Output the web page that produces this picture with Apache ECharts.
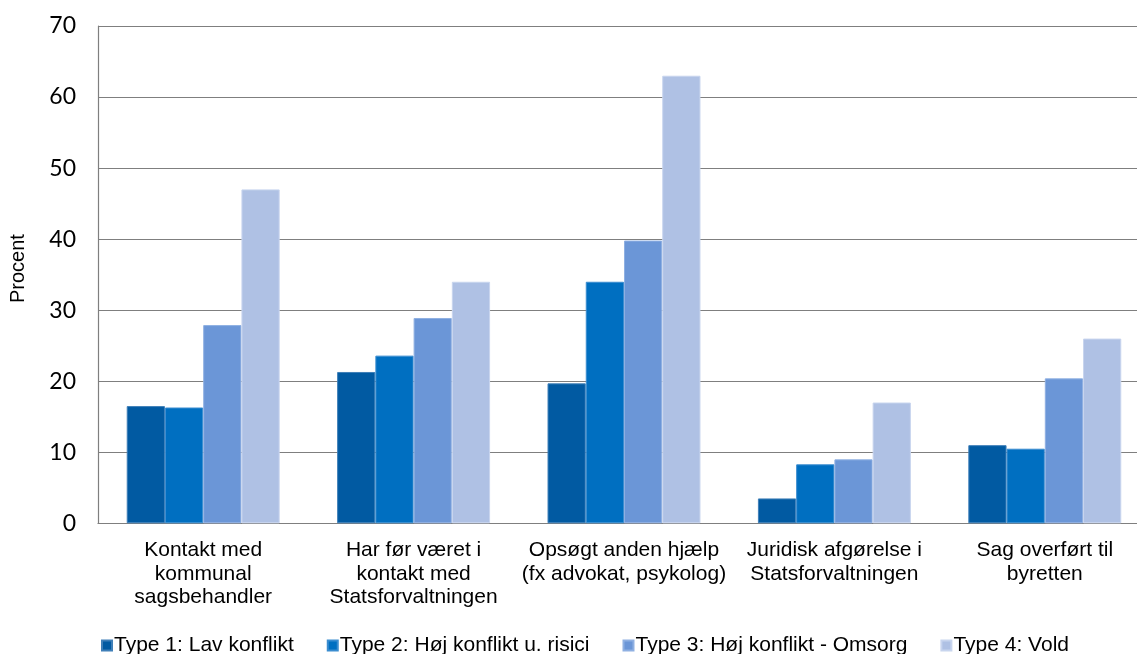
<!DOCTYPE html>
<html>
<head>
<meta charset="utf-8">
<script src="https://cdn.jsdelivr.net/npm/echarts@6/dist/echarts.min.js"></script>
<style>html,body{margin:0;padding:0;background:#fff}#c{width:1137px;height:654px}</style>
</head>
<body>
<div id="c"></div>
<script>
var categories = [
  "Kontakt med\nkommunal\nsagsbehandler",
  "Har før været i\nkontakt med\nStatsforvaltningen",
  "Opsøgt anden hjælp\n(fx advokat, psykolog)",
  "Juridisk afgørelse i\nStatsforvaltningen",
  "Sag overført til\nbyretten"
];
var seriesNames = ["Type 1: Lav konflikt", "Type 2: Høj konflikt u. risici", "Type 3: Høj konflikt - Omsorg", "Type 4: Vold"];
var type1 = [16.5, 21.3, 19.7, 3.5, 11.0];
var type2 = [16.3, 23.6, 34.0, 8.3, 10.5];
var type3 = [27.9, 28.9, 39.8, 9.0, 20.4];
var type4 = [47.0, 34.0, 63.0, 17.0, 26.0];
var yTicks = [0, 10, 20, 30, 40, 50, 60, 70];

var colors = ["#015AA2", "#006FC1", "#6B96D7", "#AFC1E4"];
var borders = ["#3f7fb8", "#3b8dd0", "#8fb0e2", "#c8d5ee"];
var allValues = [type1, type2, type3, type4];

var chart = echarts.init(document.getElementById('c'), null, {renderer: 'canvas'});
chart.setOption({
  animation: false,
  backgroundColor: '#ffffff',
  color: colors,
  grid: {left: 98, top: 26, width: 1052, height: 497.3, containLabel: false, outerBoundsMode: 'none'},
  legend: {
    data: seriesNames,
    left: 96,
    top: 630,
    itemWidth: 10,
    itemHeight: 10,
    itemGap: 33,
    icon: 'rect',
    textStyle: {fontFamily: 'Liberation Sans, Arial, sans-serif', fontSize: 21, color: '#000', padding: [0, 0, 0, -3]}
  },
  xAxis: {
    type: 'category',
    data: categories,
    axisLine: {show: true, lineStyle: {color: '#7f7f7f', width: 1.2}},
    axisTick: {show: false},
    axisLabel: {
      interval: 0,
      margin: 15,
      fontFamily: 'Liberation Sans, Arial, sans-serif',
      fontSize: 21,
      lineHeight: 23.7,
      color: '#000'
    }
  },
  yAxis: {
    type: 'value',
    min: yTicks[0],
    max: yTicks[yTicks.length - 1],
    interval: 10,
    name: 'Procent',
    nameLocation: 'middle',
    nameGap: 70,
    nameRotate: 90,
    nameTextStyle: {fontFamily: 'Liberation Sans, Arial, sans-serif', fontSize: 20, color: '#000', padding: [0, 0, 0, 12]},
    axisLine: {show: true, lineStyle: {color: '#7f7f7f', width: 1.2}},
    axisTick: {show: false},
    splitLine: {show: true, lineStyle: {color: '#7f7f7f', width: 1.2}},
    axisLabel: {
      margin: 22,
      fontFamily: 'Lato, Open Sans, sans-serif',
      fontSize: 23,
      color: '#000'
    }
  },
  series: seriesNames.map(function (n, i) {
    return {
      name: n,
      type: 'bar',
      data: allValues[i],
      barGap: '0%',
      barCategoryGap: '27.3%',
      itemStyle: {color: colors[i], borderColor: borders[i], borderWidth: 1}
    };
  })
});
</script>
</body>
</html>
